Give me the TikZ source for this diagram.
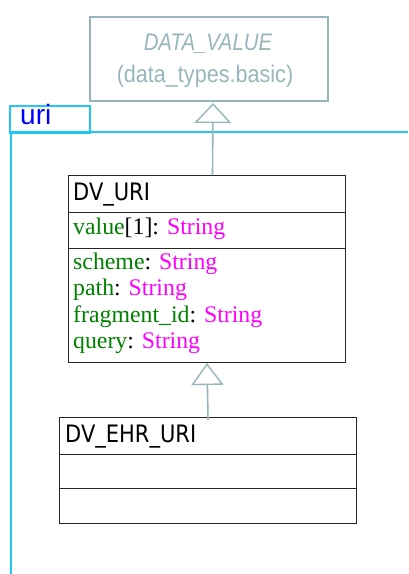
\documentclass[tikz,border=0pt]{standalone}
\usepackage{fontspec}
\setmainfont{Liberation Serif}
\newfontfamily\umlsans[FakeStretch=0.9]{Liberation Sans}
\newfontfamily\umlsansit[FakeStretch=0.85]{Liberation Sans Italic}
\newfontfamily\umltitle[FakeStretch=0.875]{DejaVu Sans}
\usetikzlibrary{arrows.meta}

\definecolor{umlgray}{RGB}{150,182,187}
\definecolor{pkgcyan}{RGB}{32,200,248}
\definecolor{attrgreen}{RGB}{0,128,0}
\definecolor{typemag}{RGB}{255,0,255}

\newcommand{\attr}[2]{\textcolor{attrgreen}{#1}: \textcolor{typemag}{#2}}

\begin{document}
\begin{tikzpicture}[x=1pt, y=-1pt]
    % Basic styles
    \tikzset{
        classbox/.style={
            rectangle,
            draw=black!85,
            line width=1pt,
            anchor=north west,
            inner sep=0pt
        },
        extbox/.style={
            rectangle,
            draw=umlgray,
            line width=2pt,
            anchor=north west,
            inner sep=0pt
        },
        title/.style={anchor=base west, inner sep=0pt, font=\umltitle\fontsize{24}{26}\selectfont},
        field/.style={anchor=base west, inner sep=0pt, font=\fontsize{23.8}{26.5}\selectfont},
        inherit/.style={draw=umlgray, line width=1.6pt}
    }
    \useasboundingbox (0,0) rectangle (408,574);

    % Package uri
    \node[draw=pkgcyan, line width=1.8pt, anchor=north west, minimum width=80pt, minimum height=27pt,
          inner sep=0pt] (pkgtab) at (9,105) {};
    \node[anchor=base west, inner sep=0pt, text=blue, font=\fontspec{Liberation Sans}\fontsize{28}{30}\selectfont]
          (pkgname) at (20,124) {uri};
    \draw[pkgcyan, line width=1.8pt] (408,132) -- (11,132) -- (11,574);

    % External class (grey)
    \node[extbox, minimum width=238pt, minimum height=84pt] (datavalue) at (89,16) {};
    \node[anchor=base, inner sep=0pt, text=umlgray, font=\umlsansit\fontsize{24}{26}\selectfont]
          (dvname) at (208,50) {DATA\_VALUE};
    \node[anchor=base, inner sep=0pt, text=umlgray, font=\umlsans\fontsize{24}{26}\selectfont]
          (dvpkg) at (205,82) {(data\_types.basic)};

    % DV_URI
    \node[classbox, minimum width=277pt, minimum height=187pt] (dvuri) at (68,175) {};
    \draw[black!85, line width=1pt] (68,212) -- (345,212);
    \draw[black!85, line width=1pt] (68,248) -- (345,248);
    \node[title] (urititle) at (73,200) {DV\_URI};
    \node[field] (urivalue) at (73,234) {\textcolor{attrgreen}{value}[1]: \textcolor{typemag}{String}};
    \node[field] (urischeme) at (73,269) {\attr{scheme}{String}};
    \node[field] (uripath) at (73,295.5) {\attr{path}{String}};
    \node[field] (urifrag) at (73,322) {\attr{fragment\_id}{String}};
    \node[field] (uriquery) at (73,348) {\attr{query}{String}};

    % DV_EHR_URI
    \node[classbox, minimum width=297pt, minimum height=106pt] (ehruri) at (59,417) {};
    \draw[black!85, line width=1pt] (59,454) -- (356,454);
    \draw[black!85, line width=1pt] (59,488) -- (356,488);
    \node[title] (ehrtitle) at (65,442) {DV\_EHR\_URI};

    % Inheritance
    \draw[inherit, -{Triangle[open, length=20pt, width=37pt, line width=1.4pt]}]
        ([xshift=5.5pt]dvuri.north) -- ([xshift=4pt, yshift=-1pt]datavalue.south);
    \draw[inherit, -{Triangle[open, length=22pt, width=32pt, line width=1.4pt]}]
        ([yshift=-3pt]ehruri.north) -- (dvuri.south);
\end{tikzpicture}
\end{document}
